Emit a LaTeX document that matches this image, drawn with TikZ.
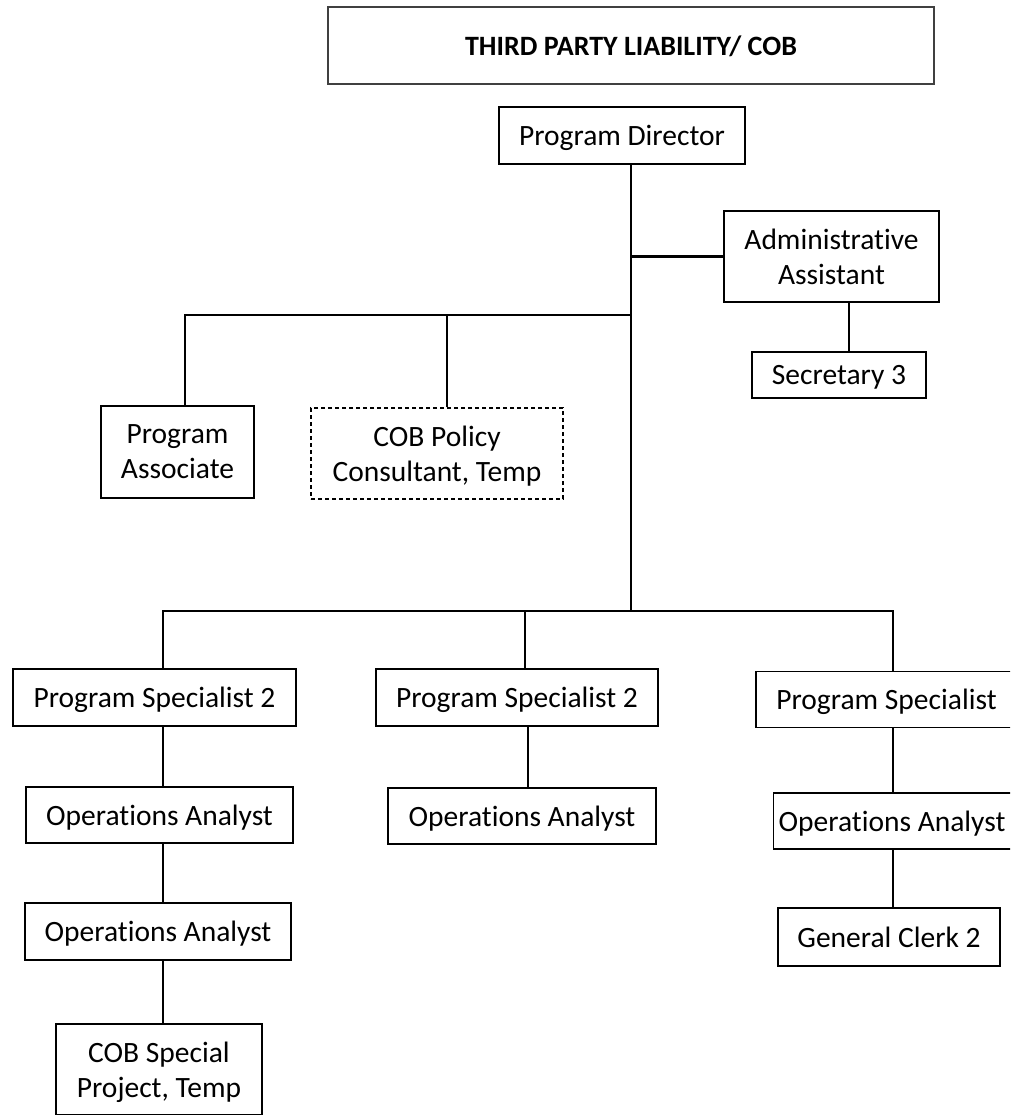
\documentclass[tikz,border=0pt]{standalone}
\usepackage{fontspec}
\setmainfont{Carlito}[Ligatures=NoCommon]
\begin{document}
\begin{tikzpicture}[x=1pt,y=-1pt,
  box/.style={draw=black,line width=1.3pt,rectangle,inner sep=0pt,align=center,
    text depth=0pt,font=\fontsize{29.5}{35}\selectfont},
  tempbox/.style={box,dashed,dash pattern=on 4pt off 3pt},
  link/.style={draw=black,line width=2.5pt}]
\useasboundingbox (0,0) rectangle (1010,1115);
\clip (0,0) rectangle (1010,1115);
% nodes
\node[box,draw=black!75,minimum width=606pt,minimum height=77pt,font=\fontsize{28}{33}\selectfont\bfseries] (title) at (631,45.5) {THIRD PARTY LIABILITY/ COB};
\node[box,minimum width=246pt,minimum height=57pt] (pd) at (622,135.5) {Program Director};
\node[box,minimum width=215pt,minimum height=91pt] (aa) at (831.5,256.5) {Administrative\\Assistant};
\node[box,minimum width=174pt,minimum height=46pt] (sec) at (839,375) {Secretary 3};
\node[box,minimum width=153pt,minimum height=92pt] (pa) at (177.5,452) {Program\\Associate};
\node[tempbox,minimum width=252pt,minimum height=91pt] (cob) at (437,453.5) {COB Policy\\Consultant, Temp};
\node[box,minimum width=283pt,minimum height=57pt] (ps1) at (154.5,697.5) {Program Specialist 2};
\node[box,minimum width=267pt,minimum height=56pt] (oa1) at (159.5,815) {Operations Analyst};
\node[box,minimum width=266pt,minimum height=57pt] (oa2) at (158,931.5) {Operations Analyst};
\node[box,minimum width=206pt,minimum height=91pt] (cobsp) at (159,1069.5) {COB Special\\Project, Temp};
\node[box,minimum width=282pt,minimum height=57pt] (ps2) at (517,697.5) {Program Specialist 2};
\node[box,minimum width=268pt,minimum height=56pt] (oa3) at (522,816) {Operations Analyst};
\node[box,minimum width=261pt,minimum height=56pt] (ps3) at (886.5,699.5) {Program Specialist};
\node[box,anchor=west,minimum height=56pt,inner xsep=5pt] (oa4) at (773,821) {\makebox[260pt][l]{Operations Analyst}};
\node[box,minimum width=222pt,minimum height=58pt] (gc) at (889,937) {General Clerk 2};
% junction coordinates
\coordinate (trunk) at (631,611);
\coordinate (upbar) at (631,315);
\coordinate (xpa) at (185,0);
\coordinate (xcob) at (447,0);
\coordinate (xsec) at (849,0);
\coordinate (xps1) at (163,0);
\coordinate (xps2) at (525,0);
\coordinate (xps3) at (893,0);
\coordinate (xoa3) at (528,0);
% connectors
\draw[link] (pd.south -| trunk) -- (trunk);
\draw[link] (aa.west -| trunk) -- (aa.west);
\draw[link] (aa.south -| xsec) -- (sec.north -| xsec);
\draw[link] (pa.north -| xpa) |- (upbar);
\draw[link] (cob.north -| xcob) -- (upbar -| xcob);
\draw[link] (ps1.north -| xps1) |- (trunk);
\draw[link] (trunk) -| (ps3.north -| xps3);
\draw[link] (trunk -| xps2) -- (ps2.north -| xps2);
\draw[link] (ps1.south -| xps1) -- (oa1.north -| xps1);
\draw[link] (oa1.south -| xps1) -- (oa2.north -| xps1);
\draw[link] (oa2.south -| xps1) -- (cobsp.north -| xps1);
\draw[link] (ps2.south -| xoa3) -- (oa3.north -| xoa3);
\draw[link] (ps3.south -| xps3) -- (oa4.north -| xps3);
\draw[link] (oa4.south -| xps3) -- (gc.north -| xps3);
\end{tikzpicture}
\end{document}
